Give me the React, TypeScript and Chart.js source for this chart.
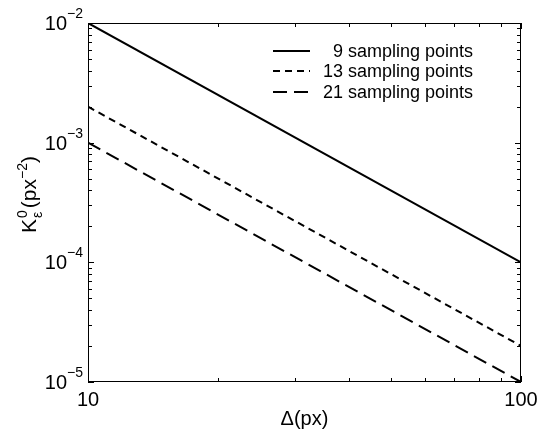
import React, { useEffect, useRef } from "react";
import { Chart, registerables } from "chart.js";

Chart.register(...registerables);

// Grid spacing Δ (px) and the curvature threshold for each sampling density
const deltaValues = [10, 100];
const seriesLabels = ["9 sampling points", "13 sampling points", "21 sampling points"];
const kNine = [1e-2, 1e-4];
const kThirteen = [2e-3, 2e-5];
const kTwentyOne = [1e-3, 1e-5];

// Axis decorations
const xMajorTicks = [10, 100];
const xMajorLabels = ["10", "100"];
const yMajorTicks = [1e-5, 1e-4, 1e-3, 1e-2];
const yTickExponents = ["\u22125", "\u22124", "\u22123", "\u22122"];
const minorFactors = [2, 3, 4, 5, 6, 7, 8, 9];

const FONT = '"Liberation Sans", Arial, Helvetica, sans-serif';

const toPoints = (ys: number[]) => deltaValues.map((x, i) => ({ x, y: ys[i] }));

const axesPlugin = {
  id: "matlabAxes",
  afterDraw(chart: any) {
    const { ctx, chartArea } = chart;
    const xs = chart.scales.x;
    const ys = chart.scales.y;
    const { left, right, top, bottom } = chartArea;
    ctx.save();
    ctx.strokeStyle = "#000";
    ctx.fillStyle = "#000";
    ctx.lineWidth = 1;

    // frame
    ctx.strokeRect(left + 0.5, top + 0.5, right - left - 1, bottom - top - 1);

    const majorLen = 6;
    const minorLen = 4;
    ctx.beginPath();
    // x ticks on bottom and top
    const xTickVals: [number, number][] = [];
    xMajorTicks.forEach((v) => xTickVals.push([v, majorLen]));
    for (let d = 10; d < 100; d *= 10) {
      minorFactors.forEach((f) => xTickVals.push([f * d, minorLen]));
    }
    xTickVals.forEach(([v, len]) => {
      const px = Math.round(xs.getPixelForValue(v)) + 0.5;
      ctx.moveTo(px, bottom);
      ctx.lineTo(px, bottom - len);
      ctx.moveTo(px, top);
      ctx.lineTo(px, top + len);
    });
    // y ticks on left and right
    const yTickVals: [number, number][] = [];
    yMajorTicks.forEach((v) => yTickVals.push([v, majorLen]));
    for (let e = -5; e < -2; e++) {
      const d = Math.pow(10, e);
      minorFactors.forEach((f) => yTickVals.push([f * d, minorLen]));
    }
    yTickVals.forEach(([v, len]) => {
      const py = Math.round(ys.getPixelForValue(v)) + 0.5;
      ctx.moveTo(left, py);
      ctx.lineTo(left + len, py);
      ctx.moveTo(right, py);
      ctx.lineTo(right - len, py);
    });
    ctx.stroke();

    // y tick labels: 10 with superscript exponent
    const baseSize = 20;
    const supSize = 14;
    ctx.textBaseline = "alphabetic";
    yMajorTicks.forEach((v, i) => {
      const py = ys.getPixelForValue(v);
      ctx.font = `${supSize}px ${FONT}`;
      const ew = ctx.measureText(yTickExponents[i]).width;
      ctx.font = `${baseSize}px ${FONT}`;
      const bw = ctx.measureText("10").width;
      const endX = left - 5;
      ctx.textAlign = "left";
      ctx.fillText("10", endX - ew - bw, py + 7);
      ctx.font = `${supSize}px ${FONT}`;
      ctx.fillText(yTickExponents[i], endX - ew, py - 5);
    });

    // x tick labels
    ctx.font = `${baseSize}px ${FONT}`;
    ctx.textAlign = "center";
    xMajorTicks.forEach((v, i) => {
      const px = xs.getPixelForValue(v);
      ctx.fillText(xMajorLabels[i], px, bottom + 24);
    });

    // x title
    ctx.font = `20px ${FONT}`;
    ctx.fillText("\u0394(px)", (left + right) / 2, bottom + 43);

    // y title, rotated: K with stacked 0 / ε, then (px^-2)
    ctx.save();
    ctx.translate(36, 195);
    ctx.rotate(-Math.PI / 2);
    ctx.textAlign = "left";
    const tSize = 21;
    const tSup = 14;
    ctx.font = `${tSize}px ${FONT}`;
    const kW = ctx.measureText("K").width;
    ctx.font = `${tSup}px ${FONT}`;
    const zW = ctx.measureText("0").width;
    const epsW = ctx.measureText("\u03b5").width;
    const stackW = Math.max(zW, epsW) + 2;
    ctx.font = `${tSize}px ${FONT}`;
    const pW = ctx.measureText("(px").width;
    ctx.font = `${tSup}px ${FONT}`;
    const m2W = ctx.measureText("\u22122").width;
    ctx.font = `${tSize}px ${FONT}`;
    const cW = ctx.measureText(")").width;
    const total = kW + stackW + pW + m2W + cW;
    let cx = -total / 2;
    ctx.fillText("K", cx, 0);
    cx += kW + 1;
    ctx.font = `${tSup}px ${FONT}`;
    ctx.fillText("0", cx, -9);
    ctx.fillText("\u03b5", cx, 6);
    cx += stackW;
    ctx.font = `${tSize}px ${FONT}`;
    ctx.fillText("(px", cx, 0);
    cx += pW;
    ctx.font = `${tSup}px ${FONT}`;
    ctx.fillText("\u22122", cx, -9);
    cx += m2W;
    ctx.font = `${tSize}px ${FONT}`;
    ctx.fillText(")", cx, 0);
    ctx.restore();

    // legend
    const rowsY = [51, 71, 92];
    const lineX0 = 273;
    const lineX1 = 310;
    const textRight = 473;
    ctx.font = `18px ${FONT}`;
    ctx.textAlign = "right";
    chart.data.datasets.forEach((ds: any, i: number) => {
      const y = rowsY[i];
      ctx.save();
      ctx.lineWidth = ds.borderWidth;
      ctx.setLineDash(ds.borderDash || []);
      ctx.beginPath();
      ctx.moveTo(lineX0, y);
      ctx.lineTo(lineX1, y);
      ctx.stroke();
      ctx.restore();
      ctx.fillText(ds.label, textRight, y + 6);
    });

    ctx.restore();
  },
};

export default function App() {
  const canvasRef = useRef<HTMLCanvasElement | null>(null);

  useEffect(() => {
    document.body.style.margin = "0";
    const canvas = canvasRef.current;
    if (!canvas) return;
    const chart = new Chart(canvas, {
      type: "line",
      data: {
        datasets: [
          {
            label: seriesLabels[0],
            data: toPoints(kNine),
            borderColor: "#000",
            borderWidth: 2,
            pointRadius: 0,
            borderDash: [],
          },
          {
            label: seriesLabels[1],
            data: toPoints(kThirteen),
            borderColor: "#000",
            borderWidth: 2,
            pointRadius: 0,
            borderDash: [7, 5],
          },
          {
            label: seriesLabels[2],
            data: toPoints(kTwentyOne),
            borderColor: "#000",
            borderWidth: 2,
            pointRadius: 0,
            borderDash: [14, 7],
          },
        ],
      },
      options: {
        responsive: false,
        animation: false,
        layout: { padding: { left: 88, top: 23, right: 17, bottom: 49 } },
        plugins: {
          legend: { display: false },
          tooltip: { enabled: false },
        },
        scales: {
          x: { type: "logarithmic", min: 10, max: 100, display: false },
          y: { type: "logarithmic", min: 1e-5, max: 1e-2, display: false },
        },
      },
      plugins: [axesPlugin],
    });
    return () => chart.destroy();
  }, []);

  return (
    <div style={{ width: 538, height: 431, background: "#fff" }}>
      <canvas ref={canvasRef} width={538} height={431} />
    </div>
  );
}
